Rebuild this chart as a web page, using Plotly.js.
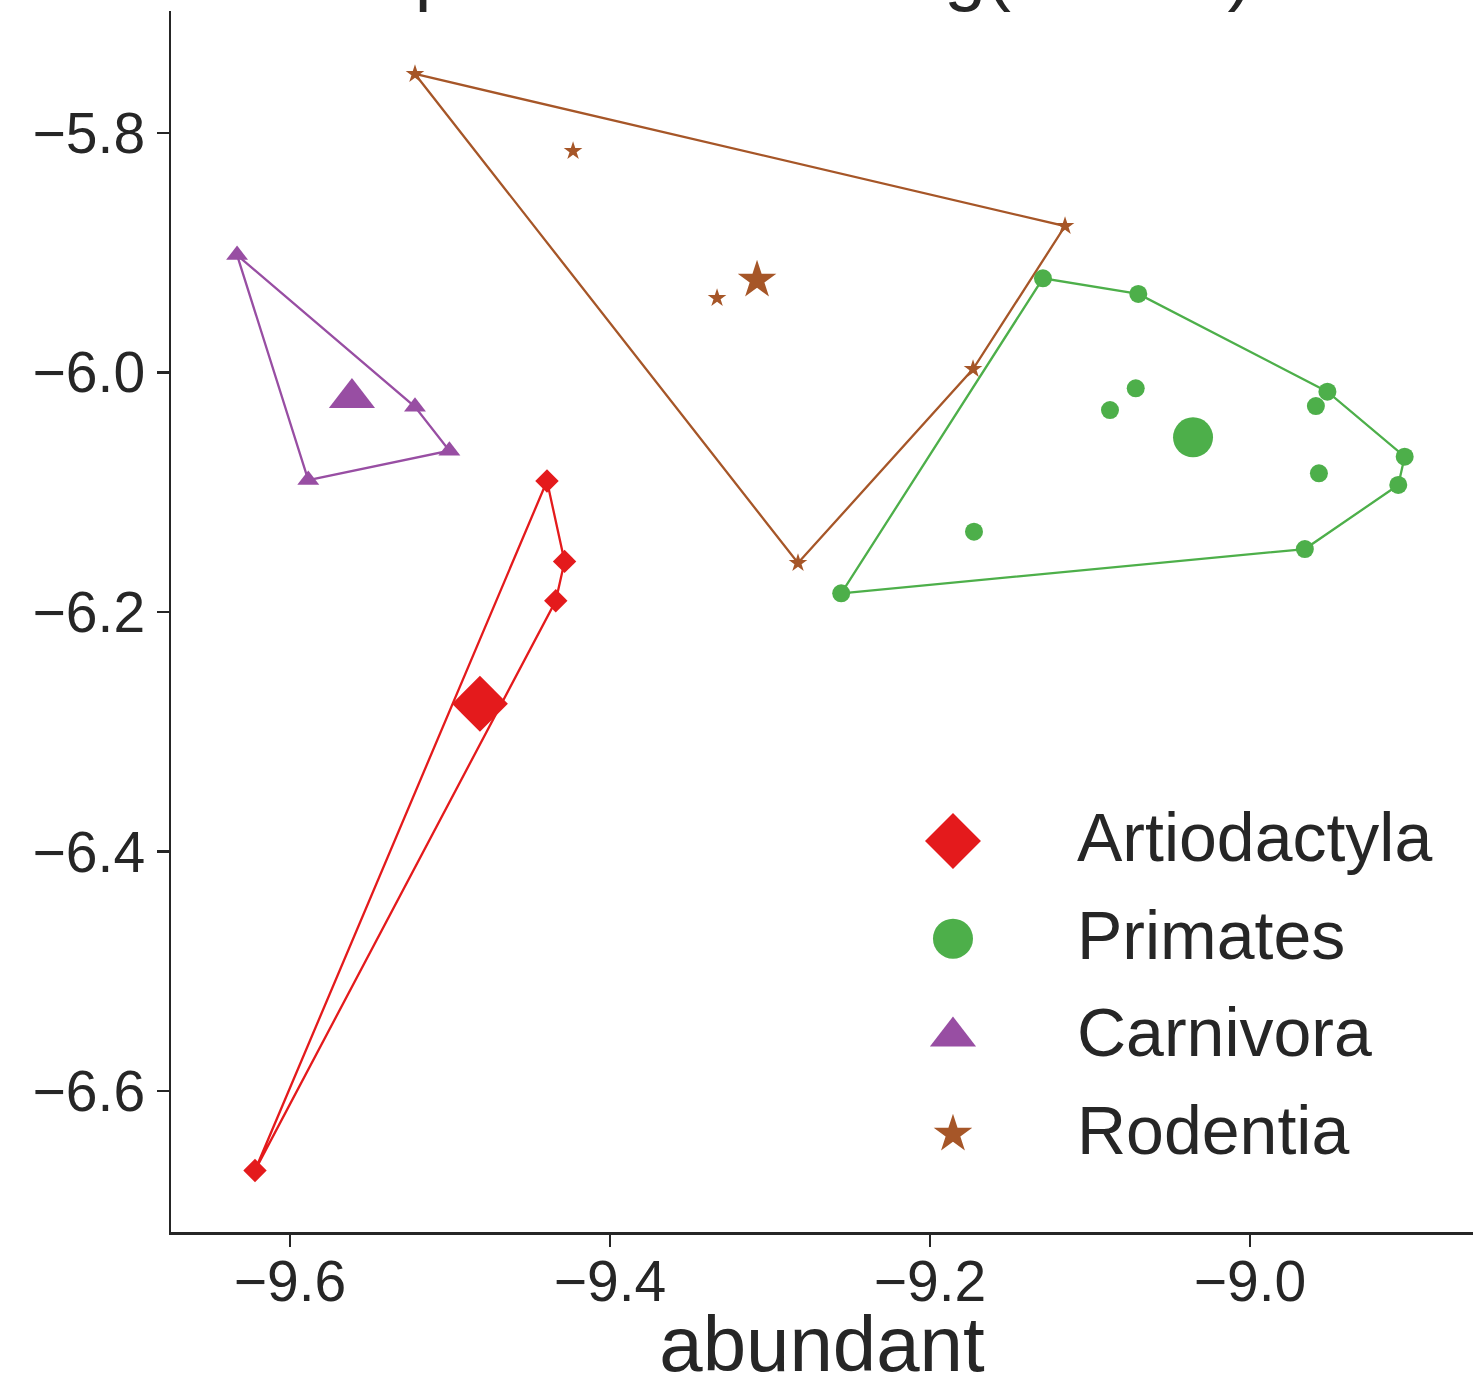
<!DOCTYPE html>
<html>
<head>
<meta charset="utf-8">
<script src="https://cdn.plot.ly/plotly-3.0.1.min.js"></script>
<style>html,body{margin:0;padding:0;background:#fff;}#chart{width:1473px;height:1388px;}</style>
</head>
<body>
<div id="chart"></div>
<script>
// ---- data ----
const groups = ['Artiodactyla', 'Primates', 'Carnivora', 'Rodentia'];
const groupColors = ['#e41a1c', '#4daf4a', '#984ea3', '#a65628'];
const groupSymbols = ['diamond', 'circle', 'triangle-up', 'star'];

const artioX = [-9.4394, -9.4284, -9.4339, -9.6219];
const artioY = [-6.0906, -6.1577, -6.1906, -6.6663];
const artioCX = [-9.4813];
const artioCY = [-6.2766];

const primX = [-9.1294, -9.0698, -8.9516, -8.9588, -8.9033, -8.9073, -8.9657, -9.2555, -9.0714, -9.0875, -8.9569, -9.1725];
const primY = [-5.9213, -5.9344, -6.0160, -6.0280, -6.0703, -6.0939, -6.1474, -6.1844, -6.0132, -6.0313, -6.0842, -6.1329];
const primCX = [-9.0356];
const primCY = [-6.0541];

const carnX = [-9.6331, -9.5219, -9.5004, -9.5886];
const carnY = [-5.9019, -6.0286, -6.0653, -6.0898];
const carnCX = [-9.5613];
const carnCY = [-6.0213];

const rodX = [-9.5219, -9.4231, -9.1156, -9.3331, -9.1731, -9.2825];
const rodY = [-5.7507, -5.8150, -5.8777, -5.9378, -5.9971, -6.1591];
const rodCX = [-9.3081];
const rodCY = [-5.9228];

const xTicks = [-9.6, -9.4, -9.2, -9.0];
const yTicks = [-5.8, -6.0, -6.2, -6.4, -6.6];
const xLabel = 'abundant';
const titleText = 'Group centroids of log(RPKM)';

// ---- styling ----
const FONT = '"Liberation Sans", Arial, Helvetica, sans-serif';
const INK = '#262626';
const smallSize = [18, 18, 19, 14];
const bigSize = [43, 40, 40, 29];

const pts = [
  {x: artioX, y: artioY, cx: artioCX, cy: artioCY},
  {x: primX, y: primY, cx: primCX, cy: primCY},
  {x: carnX, y: carnY, cx: carnCX, cy: carnCY},
  {x: rodX, y: rodY, cx: rodCX, cy: rodCY}
];

// convex hull (monotone chain)
function hull(xs, ys) {
  const p = xs.map((x, i) => [x, ys[i]]).sort((a, b) => a[0] - b[0] || a[1] - b[1]);
  const cross = (o, a, b) => (a[0] - o[0]) * (b[1] - o[1]) - (a[1] - o[1]) * (b[0] - o[0]);
  const lower = [];
  for (const q of p) { while (lower.length >= 2 && cross(lower[lower.length - 2], lower[lower.length - 1], q) <= 0) lower.pop(); lower.push(q); }
  const upper = [];
  for (let i = p.length - 1; i >= 0; i--) { const q = p[i]; while (upper.length >= 2 && cross(upper[upper.length - 2], upper[upper.length - 1], q) <= 0) upper.pop(); upper.push(q); }
  upper.pop(); lower.pop();
  const h = lower.concat(upper);
  h.push(h[0]);
  return {x: h.map(v => v[0]), y: h.map(v => v[1])};
}

const traces = [];
pts.forEach((g, i) => {
  const h = hull(g.x, g.y);
  traces.push({x: h.x, y: h.y, mode: 'lines', type: 'scatter', showlegend: false, hoverinfo: 'skip',
    line: {color: groupColors[i], width: 2.3}});
});
pts.forEach((g, i) => {
  traces.push({x: g.x, y: g.y, mode: 'markers', type: 'scatter', showlegend: false, name: groups[i],
    marker: {color: groupColors[i], symbol: groupSymbols[i], size: smallSize[i], line: {width: 0}}});
  traces.push({x: g.cx, y: g.cy, mode: 'markers', type: 'scatter', showlegend: false, name: groups[i] + ' centroid',
    marker: {color: groupColors[i], symbol: groupSymbols[i], size: bigSize[i], line: {width: 0}}});
});

// ---- custom legend on a hidden overlay axis (fractions of the plot area) ----
const legMarkerX = 0.6006, legTextX = 0.6966, legTop = 0.3202, legStep = 0.0800;
const annotations = [];
groups.forEach((name, i) => {
  const yy = legTop - i * legStep;
  traces.push({x: [legMarkerX], y: [yy], xaxis: 'x2', yaxis: 'y2', mode: 'markers', type: 'scatter',
    showlegend: false, hoverinfo: 'skip',
    marker: {color: groupColors[i], symbol: groupSymbols[i], size: bigSize[i], line: {width: 0}}});
  annotations.push({xref: 'paper', yref: 'paper', x: legTextX, y: yy, xanchor: 'left', yanchor: 'middle',
    text: name, showarrow: false, font: {family: FONT, size: 68, color: INK}, yshift: 4, xshift: -3});
});

// partially visible title (cut off at the top as in the reference)
annotations.push({xref: 'paper', yref: 'paper', x: 0.445, y: 1, xanchor: 'center', yanchor: 'bottom',
  text: titleText, showarrow: false, font: {family: FONT, size: 75, color: INK}, yshift: -4});

const layout = {
  width: 1473, height: 1388,
  margin: {l: 171, r: 0, t: 11, b: 156, pad: 0},
  paper_bgcolor: '#ffffff', plot_bgcolor: '#ffffff',
  font: {family: FONT, color: INK},
  showlegend: false,
  xaxis: {
    range: [-9.6744, -8.8606], tickvals: xTicks, tickformat: '.1f',
    ticks: 'outside', ticklen: 12, tickwidth: 2.5, tickcolor: INK,
    showline: true, linewidth: 2.5, linecolor: INK, mirror: false,
    showgrid: false, zeroline: false, ticklabelstandoff: -14,
    tickfont: {family: FONT, size: 57, color: INK},
    title: {text: xLabel, font: {family: FONT, size: 78, color: INK}, standoff: 18}
  },
  yaxis: {
    range: [-6.7177, -5.6981], tickvals: yTicks, tickformat: '.1f',
    ticks: 'outside', ticklen: 12, tickwidth: 2.5, tickcolor: INK,
    showline: true, linewidth: 2.5, linecolor: INK, mirror: false,
    showgrid: false, zeroline: false,
    tickfont: {family: FONT, size: 57, color: INK}
  },
  xaxis2: {overlaying: 'x', range: [0, 1], visible: false, fixedrange: true},
  yaxis2: {overlaying: 'y', range: [0, 1], visible: false, fixedrange: true},
  annotations: annotations
};

Plotly.newPlot('chart', traces, layout, {displayModeBar: false, staticPlot: true});
</script>
</body>
</html>
